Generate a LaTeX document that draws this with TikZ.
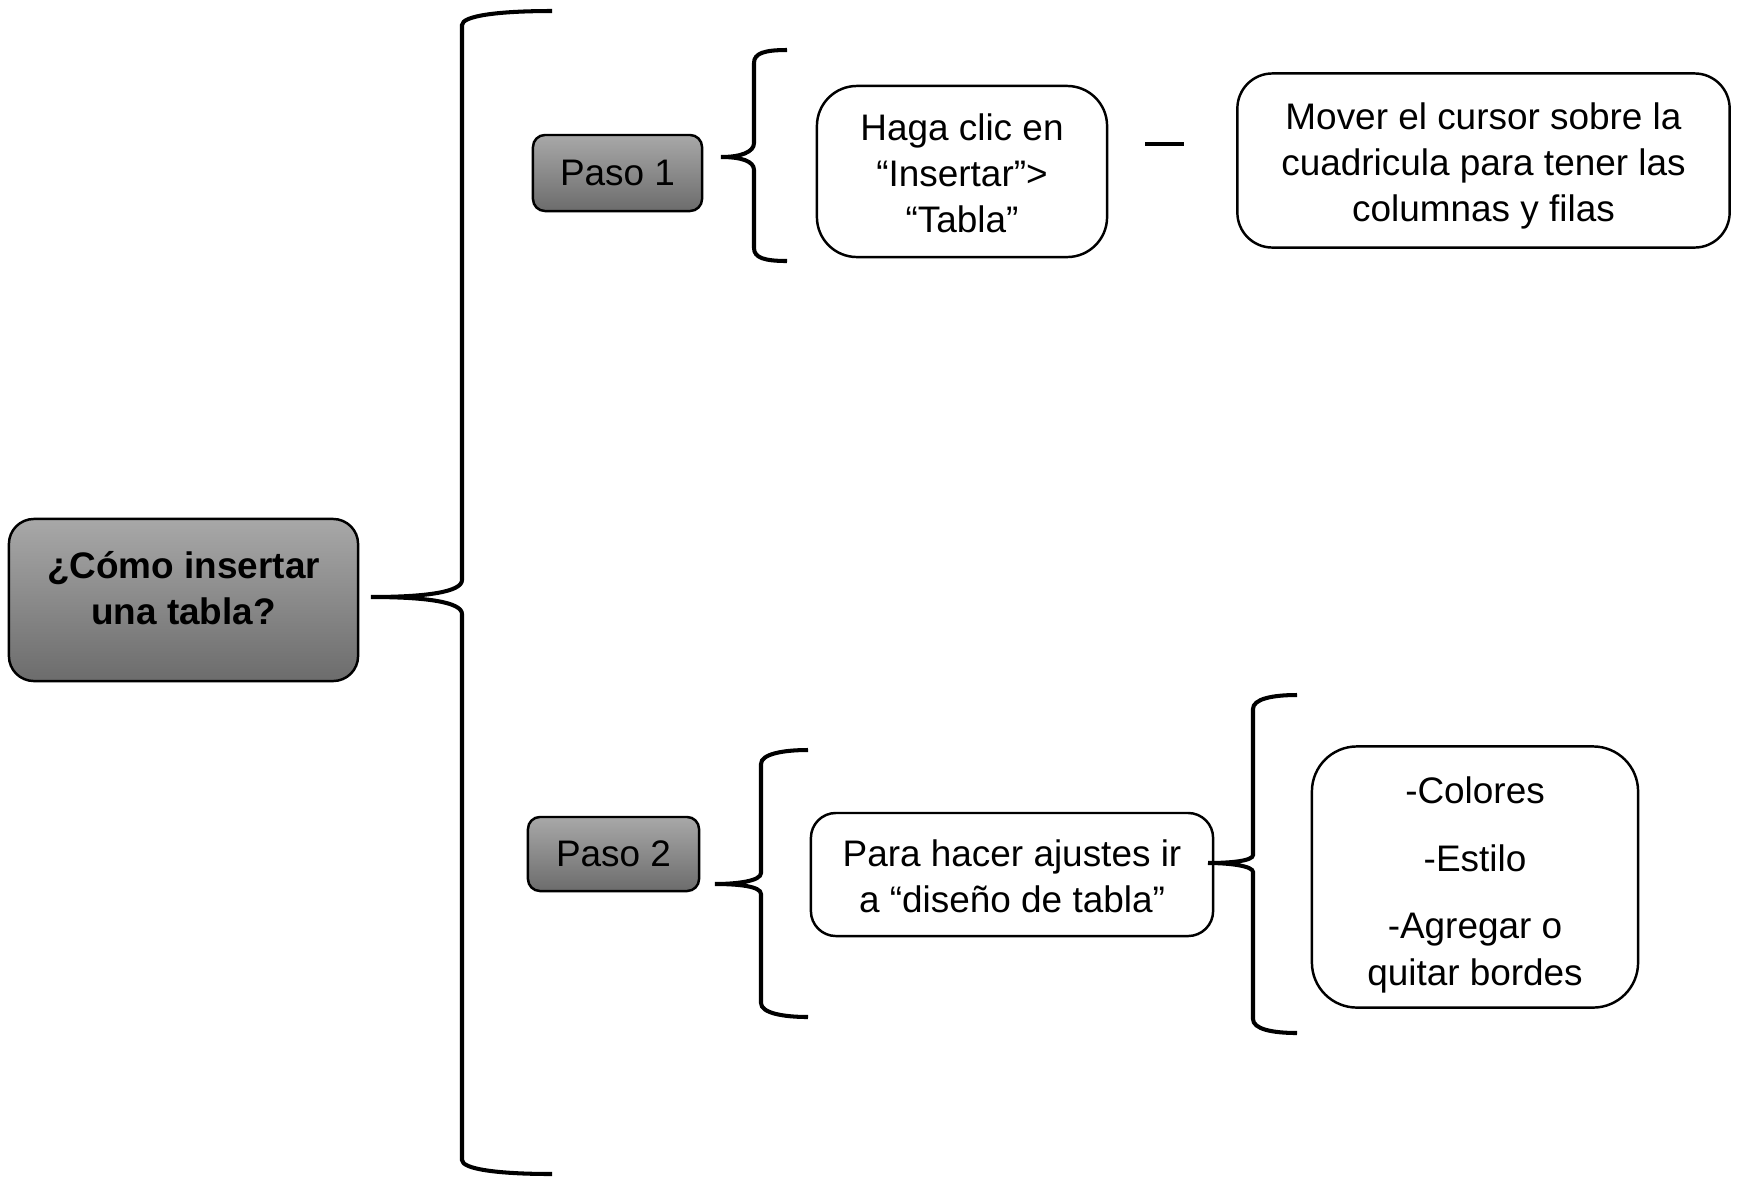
\documentclass[tikz,border=0pt]{standalone}
\usepackage{fontspec}
\setmainfont{Liberation Sans}
\usepackage{tikz}
\usetikzlibrary{positioning}
\definecolor{grisarriba}{RGB}{168,168,168}
\definecolor{grisabajo}{RGB}{108,108,108}
\tikzset{gris/.style={draw=black, line width=0.7pt, top color=grisarriba, bottom color=grisabajo, align=center, inner sep=0pt}}
\tikzset{blanca/.style={draw=black, line width=0.7pt, fill=white, align=center, inner sep=0pt}}
\tikzset{llave/.style={line width=1.15pt}}

\begin{document}
\begin{tikzpicture}[x=0.01cm, y=-0.01cm, font=\fontsize{10.5}{13.1}\selectfont]
		\useasboundingbox (0,0) rectangle (1739,1178);
		\node[gris, rounded corners=0.25cm, minimum width=3.49cm, minimum height=1.62cm, text depth=0.24cm, font=\fontsize{10.5}{13.1}\selectfont\bfseries] (pregunta) at (183.5,600) {¿Cómo insertar\\una tabla?};
		\node[gris, rounded corners=0.12cm, minimum width=1.69cm, minimum height=0.76cm] (paso1) at (617.5,173) {Paso 1};
		\node[gris, rounded corners=0.12cm, minimum width=1.71cm, minimum height=0.74cm] (paso2) at (613.5,854) {Paso 2};
		\node[blanca, rounded corners=0.4cm, minimum width=2.9cm, minimum height=1.71cm, text height=1.226cm] (insertar) at (962,171.5) {Haga clic en\\“Insertar”>\\“Tabla”};
		\node[blanca, rounded corners=0.35cm, minimum width=4.92cm, minimum height=1.74cm, text height=1.296cm] (cursor) at (1483.5,160.5) {Mover el cursor sobre la\\cuadricula para tener las\\columnas y filas};
		\node[blanca, rounded corners=0.25cm, minimum width=4.02cm, minimum height=1.23cm, text height=0.755cm] (diseno) at (1012,874.5) {Para hacer ajustes ir\\a “diseño de tabla”};
		\node[blanca, rounded corners=0.45cm, minimum width=3.26cm, minimum height=2.61cm, text height=2.236cm] (opciones) at (1475,877) {-Colores\\[6.1pt]-Estilo\\[6.1pt]-Agregar o\\quitar bordes};
		\coordinate (p0) at (371,597);
		\coordinate (p0a) at (552,11);
		\coordinate (p0b) at (552,1174);
		\coordinate (p1) at (721,157);
		\coordinate (p1a) at (787,50);
		\coordinate (p1b) at (787,261);
		\coordinate (p2) at (715,884);
		\coordinate (p2a) at (808,750);
		\coordinate (p2b) at (808,1017);
		\coordinate (p3) at (1208,863);
		\coordinate (p3a) at (1297,695);
		\coordinate (p3b) at (1297,1033);
		\coordinate (g1) at (1145,144);
		\coordinate (g2) at (1184,144);
		\draw[llave] (p0a) .. controls +(-55,0) and +(0,-9) .. (462,25) -- (462,580) .. controls +(0,12) and +(55,0) .. (p0) .. controls +(55,0) and +(0,-12) .. (462,614) -- (462,1160) .. controls +(0,9) and +(-55,0) .. (p0b);
		\draw[llave] (p1a) .. controls +(-22,0) and +(0,-10) .. (754,63) -- (754,143) .. controls +(0,9) and +(20,0) .. (p1) .. controls +(20,0) and +(0,-9) .. (754,170) -- (754,248) .. controls +(0,10) and +(-22,0) .. (p1b);
		\draw[llave] (p2a) .. controls +(-25,0) and +(0,-10) .. (761,764) -- (761,873) .. controls +(0,8) and +(22,0) .. (p2) .. controls +(22,0) and +(0,-8) .. (761,894) -- (761,1003) .. controls +(0,10) and +(-25,0) .. (p2b);
		\draw[llave] (p3a) .. controls +(-25,0) and +(0,-10) .. (1253,709) -- (1253,855) .. controls +(0,6) and +(22,0) .. (p3) .. controls +(22,0) and +(0,-6) .. (1253,872) -- (1253,1019) .. controls +(0,10) and +(-25,0) .. (p3b);
		\draw[line width=1.4pt] (g1) -- (g2);
	\end{tikzpicture}
\end{document}
